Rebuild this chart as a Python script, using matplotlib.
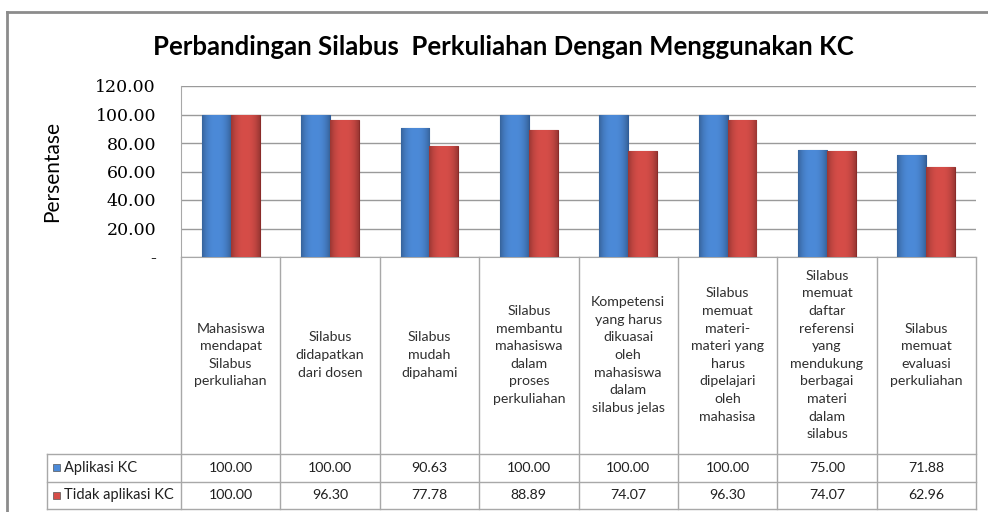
import matplotlib.pyplot as plt
import numpy as np
from matplotlib.colors import to_rgb
from matplotlib.lines import Line2D
from matplotlib.patches import Rectangle

categories = [
    "Mahasiswa\nmendapat\nSilabus\nperkuliahan",
    "Silabus\ndidapatkan\ndari dosen",
    "Silabus\nmudah\ndipahami",
    "Silabus\nmembantu\nmahasiswa\ndalam\nproses\nperkuliahan",
    "Kompetensi\nyang harus\ndikuasai\noleh\nmahasiswa\ndalam\nsilabus jelas",
    "Silabus\nmemuat\nmateri-\nmateri yang\nharus\ndipelajari\noleh\nmahasisa",
    "Silabus\nmemuat\ndaftar\nreferensi\nyang\nmendukung\nberbagai\nmateri\ndalam\nsilabus",
    "Silabus\nmemuat\nevaluasi\nperkuliahan",
]
aplikasi_kc = [100.00, 100.00, 90.63, 100.00, 100.00, 100.00, 75.00, 71.88]
tidak_aplikasi_kc = [100.00, 96.30, 77.78, 88.89, 74.07, 96.30, 74.07, 62.96]
series_names = ["Aplikasi KC", "Tidak aplikasi KC"]
y_ticks = [0, 20, 40, 60, 80, 100, 120]

BLUE = "#4c8ad8"
RED = "#d64d48"
GRID = "#9a9a9a"
TABLE_LINE = "#a8a8a8"
W, H = 988, 512

fig = plt.figure(figsize=(W / 100, H / 100), dpi=100)


def fig_box(x0, y0, x1, y1):
    # pixel box (top-left origin) -> figure fraction rect
    return [x0 / W, 1 - y1 / H, (x1 - x0) / W, (y1 - y0) / H]


def shade_bars(axis, bars, base):
    # horizontal gradient, darker toward the edges like the Excel bevel style
    t = np.linspace(-1, 1, 60)
    profile = 1.0 - 0.28 * np.abs(t) ** 2.5
    rgb = np.array(to_rgb(base))[None, None, :] * profile[None, :, None]
    for bar in bars:
        x0, y0 = bar.get_xy()
        im = axis.imshow(rgb, extent=[x0, x0 + bar.get_width(), y0, y0 + bar.get_height()],
                         aspect="auto", zorder=3.2, interpolation="bilinear")
        im.set_clip_path(bar)


# outer chart border
fig.add_artist(Line2D([7 / W, 7 / W], [0, 1 - 12 / H], color="#8c8c8c", lw=2))
fig.add_artist(Line2D([7 / W, 1], [1 - 12 / H, 1 - 12 / H], color="#8c8c8c", lw=2))

fig.text(503 / W, 1 - 47 / H, "Perbandingan Silabus  Perkuliahan Dengan Menggunakan KC",
         ha="center", va="center", fontsize=18.5, fontweight="bold", family="Lato")

# bar plot area
ax = fig.add_axes(fig_box(181, 86, 976, 257))
x = np.arange(len(categories))
bw = 0.29
b1 = ax.bar(x - bw / 2, aplikasi_kc, bw, color=BLUE, edgecolor="#2d5c9a", linewidth=0.8, zorder=3)
b2 = ax.bar(x + bw / 2, tidak_aplikasi_kc, bw, color=RED, edgecolor="#8a2b29", linewidth=0.8, zorder=3)
shade_bars(ax, b1, BLUE)
shade_bars(ax, b2, RED)
ax.set_xlim(-0.5, len(categories) - 0.5)
ax.set_ylim(0, 120)
ax.set_yticks(y_ticks)
ax.set_yticklabels(["-" if v == 0 else f"{v:.2f}" for v in y_ticks],
                   family="DejaVu Serif", fontsize=12.5)
ax.tick_params(axis="y", length=0, pad=18)
ax.set_xticks([])
ax.grid(axis="y", color=GRID, linewidth=1, zorder=0)
for side in ["top", "right"]:
    ax.spines[side].set_visible(False)
ax.spines["left"].set_color(TABLE_LINE)
ax.spines["bottom"].set_color(TABLE_LINE)
ax.set_ylabel("Persentase", family="Lato", fontsize=15, labelpad=24)

# data table below the plot, sharing category positions
tx = fig.add_axes(fig_box(181, 257, 976, 509))
tx.set_xlim(-0.5, len(categories) - 0.5)
tx.set_ylim(252, 0)
tx.axis("off")
left_edge = -0.5 - (181 - 47) / ((976 - 181) / len(categories))
row_lines = [197, 224.5, 252]
for xb in np.arange(len(categories) + 1) - 0.5:
    tx.plot([xb, xb], [0, 252], color=TABLE_LINE, lw=1, clip_on=False)
tx.plot([left_edge, left_edge], [197, 252], color=TABLE_LINE, lw=1, clip_on=False)
for yb in row_lines:
    tx.plot([left_edge, len(categories) - 0.5], [yb, yb], color=TABLE_LINE, lw=1, clip_on=False)

for i, lab in enumerate(categories):
    tx.text(i, 98, lab, ha="center", va="center", fontsize=10.2, family="Lato",
            color="#303030", linespacing=1.56)

rows = [aplikasi_kc, tidak_aplikasi_kc]
colors = [BLUE, RED]
row_mid = [210.75, 238.25]
for vals, name, col, ym in zip(rows, series_names, colors, row_mid):
    for i, v in enumerate(vals):
        tx.text(i, ym, f"{v:.2f}", ha="center", va="center", fontsize=10.2,
                family="Lato", color="#202020")
    tx.add_patch(Rectangle((left_edge + 0.06, ym - 3.5), 0.075, 7, facecolor=col,
                           edgecolor="#555555", lw=0.5, clip_on=False))
    tx.text(left_edge + 0.17, ym, name, ha="left", va="center", fontsize=10.5,
            family="Lato", color="#202020", clip_on=False)

fig.savefig("out.png", dpi=100)
